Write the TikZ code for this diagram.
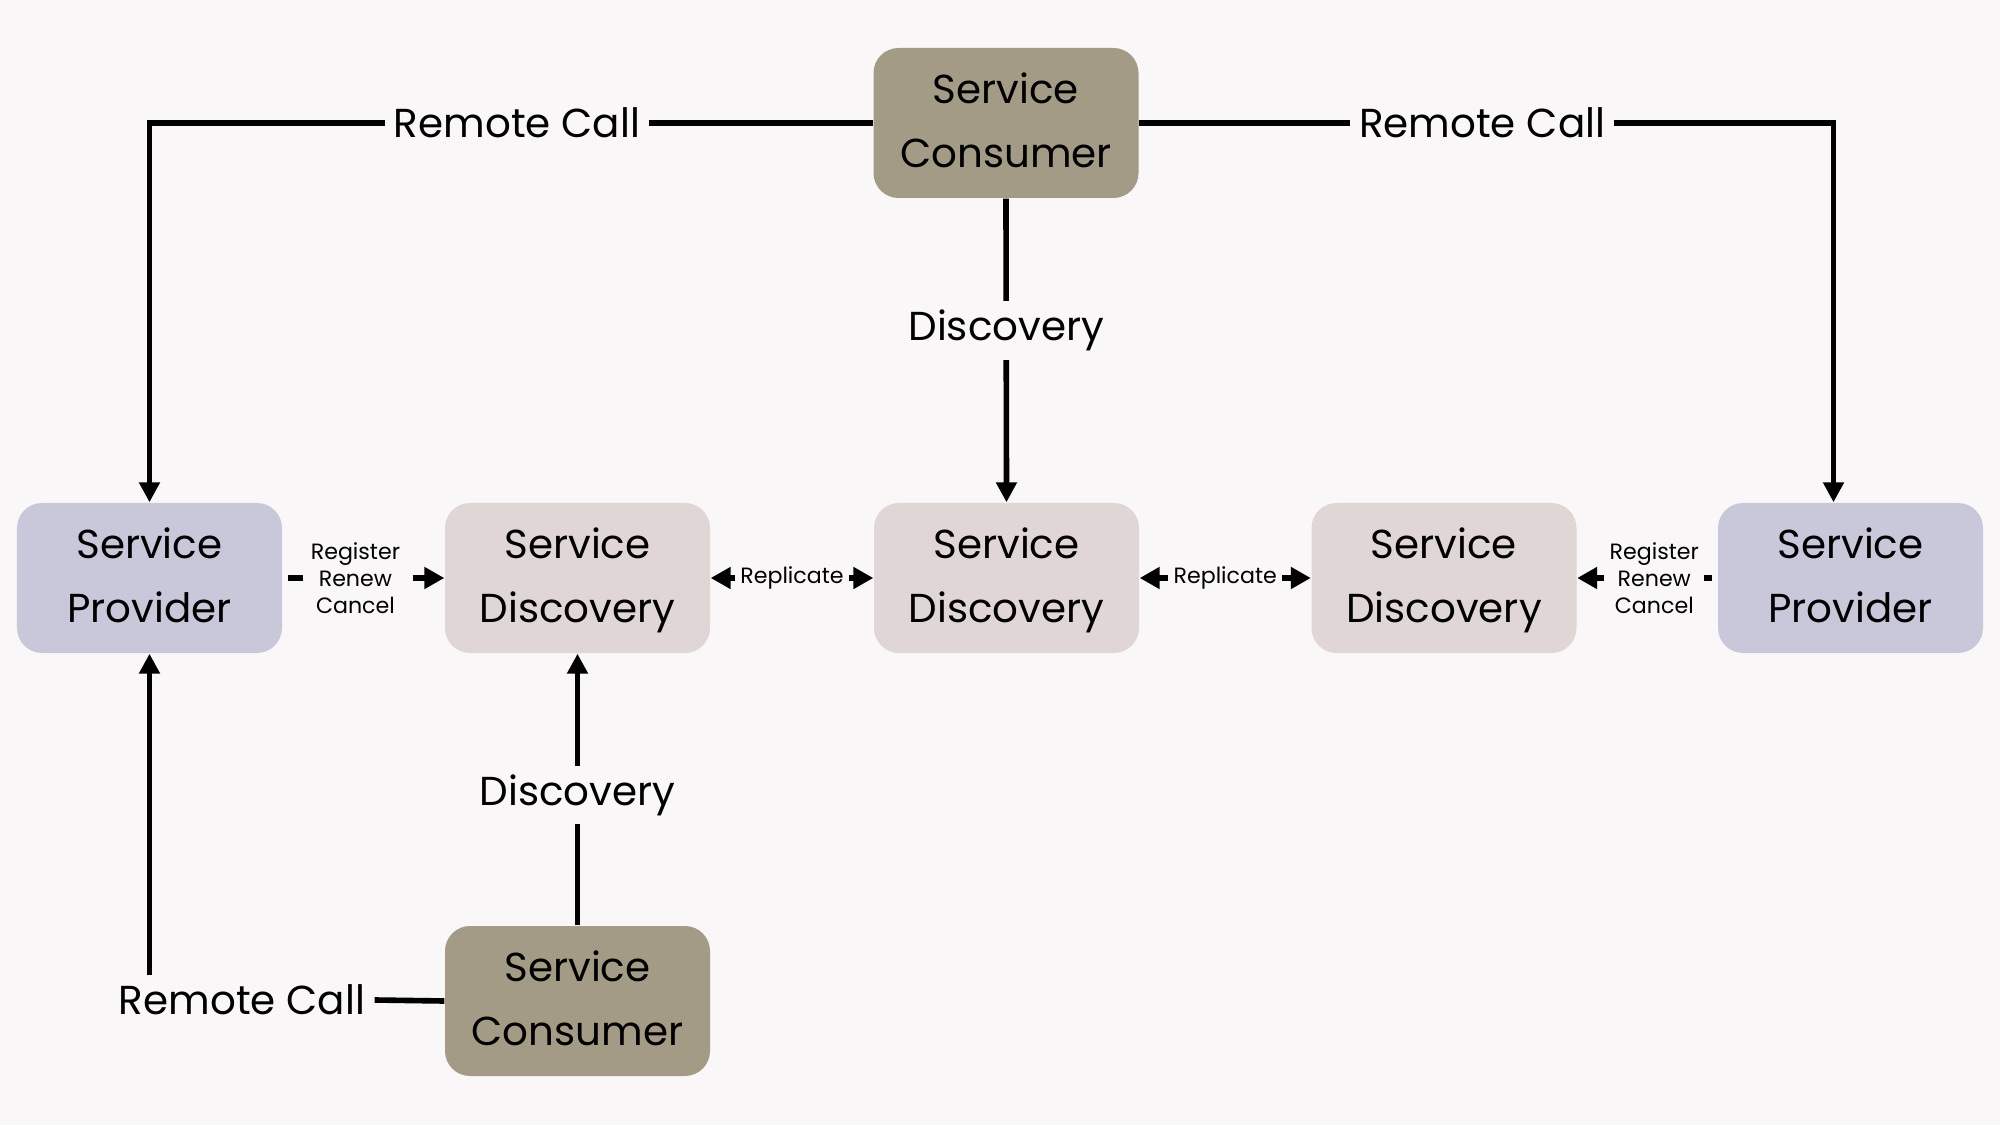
\documentclass[tikz,border=0pt]{standalone}
\usepackage{fontspec}
\setmainfont{Poppins}
\usetikzlibrary{arrows.meta}
\definecolor{bgcol}{HTML}{F9F7F8}
\definecolor{consumercol}{HTML}{A39B86}
\definecolor{providercol}{HTML}{C9C8DB}
\definecolor{registrycol}{HTML}{E1D6D6}
\newcommand{\boxtext}[2]{\rule{0pt}{12.5pt}#1\\#2\strut}
\begin{document}
\begin{tikzpicture}[
    box/.style={rounded corners=0.25cm, minimum width=2.65cm, minimum height=1.5cm,
        align=center, inner sep=0pt, font=\fontsize{11.5}{18}\selectfont},
    consumer/.style={box, fill=consumercol},
    provider/.style={box, fill=providercol},
    registry/.style={box, fill=registrycol},
    call/.style={line width=1.6pt, -{Triangle[width=0.2cm,length=0.2cm]}},
    plainline/.style={line width=1.6pt},
    heartbeat/.style={line width=1.6pt, dash pattern=on 1.5mm off 1mm,
        -{Triangle[width=0.21cm,length=0.2cm]}},
    replicate/.style={line width=1.6pt,
        {Triangle[width=0.21cm,length=0.2cm]}-{Triangle[width=0.21cm,length=0.2cm]}},
    biglabel/.style={fill=bgcol, inner sep=2.5pt, font=\fontsize{11.5}{17}\selectfont},
    smalllabel/.style={fill=bgcol, inner sep=1.5pt, align=center,
        font=\fontsize{6.3}{7.6}\selectfont}]
        \fill[bgcol] (0,0) rectangle (20,11.25);
        \useasboundingbox (0,0) rectangle (20,11.25);

        \node[consumer] (cons1) at (10.06,10.02) {\boxtext{Service}{Consumer}};
        \node[consumer] (cons2) at (5.775,1.24) {\boxtext{Service}{Consumer}};
        \node[provider] (prov1) at (1.495,5.47) {\boxtext{Service}{Provider}};
        \node[provider] (prov2) at (18.505,5.47) {\boxtext{Service}{Provider}};
        \node[registry] (disc1) at (5.775,5.47) {\boxtext{Service}{Discovery}};
        \node[registry] (disc2) at (10.065,5.47) {\boxtext{Service}{Discovery}};
        \node[registry] (disc3) at (14.44,5.47) {\boxtext{Service}{Discovery}};

        \draw[call] (cons1.west) -| node[biglabel, pos=0.246] (rc1) {Remote Call} (prov1.north);
        \draw[call] (cons1.east) -| node[biglabel, pos=0.247] (rc2) {Remote Call} ([xshift=-1.7mm]prov2.north);
        \draw[call] (cons1.south) -- node[biglabel, pos=0.435] (dsc1) {Discovery} (disc2.north);
        \draw[call] (cons2.north) -- node[biglabel, pos=0.48] (dsc2) {Discovery} (disc1.south);

        \node[biglabel] (rc3) at (2.42,1.25) {Remote Call};
        \draw[plainline] (cons2.west) -- (rc3.east);
        \draw[call] (rc3.north -| prov1.south) -- (prov1.south);

        \draw[heartbeat, shorten <=0.5mm] (prov1.east) -- node[smalllabel, pos=0.45] (hb1) {Register\\Renew\\Cancel} (disc1.west);
        \draw[heartbeat, shorten <=0.5mm] (prov2.west) -- node[smalllabel, pos=0.45] (hb2) {Register\\Renew\\Cancel} (disc3.east);
        \draw[replicate] (disc1.east) -- node[smalllabel] (rep1) {Replicate} (disc2.west);
        \draw[replicate] (disc2.east) -- node[smalllabel] (rep2) {Replicate} (disc3.west);
\end{tikzpicture}
\end{document}
